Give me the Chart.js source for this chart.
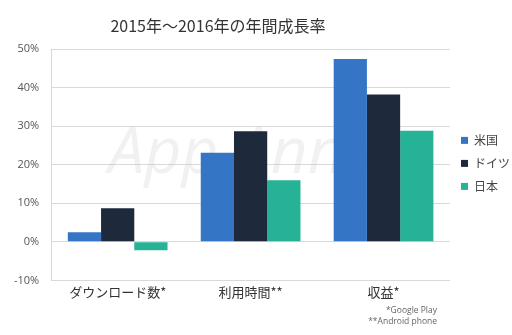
<!DOCTYPE html>
<html>
<head>
<meta charset="utf-8">
<script src="https://cdn.jsdelivr.net/npm/chart.js@4"></script>
<style>
  body { margin: 0; background: #fff; }
  #wrap { position: relative; width: 512px; height: 335px; }
  #title { position: absolute; left: 0; width: 436px; top: 13px; text-align: center;
           font: 16px "Noto Sans CJK JP", sans-serif; color: #333; }
  #note { position: absolute; right: 75px; top: 304px; text-align: right;
          font: 8.5px "Open Sans", sans-serif; color: #666; line-height: 11px; }
</style>
</head>
<body>
<div id="wrap">
  <canvas id="growthChart" width="512" height="335"></canvas>
  <div id="title">2015年～2016年の年間成長率</div>
  <div id="note">*Google Play<br>**Android phone</div>
</div>
<script>
// 項目と国別の成長率 (%)
const categories = ['ダウンロード数*', '利用時間**', '収益*'];
const countries = ['米国', 'ドイツ', '日本'];
const usValues = [2.5, 23.1, 47.4];
const germanyValues = [8.7, 28.7, 38.2];
const japanValues = [-2.2, 16.0, 28.8];
const yTicks = [-10, 0, 10, 20, 30, 40, 50];
const colors = ['#3575C6', '#1E2A3C', '#26B296'];

// 背景のウォーターマーク
const watermark = {
    id: 'watermark',
    beforeDatasetsDraw(chart) {
        const { ctx, chartArea } = chart;
        ctx.save();
        ctx.font = 'italic 64px "Open Sans", sans-serif';
        ctx.fillStyle = 'rgba(200,200,200,0.25)';
        ctx.textAlign = 'center';
        ctx.textBaseline = 'middle';
        ctx.fillText('App Annie', (chartArea.left + chartArea.right) / 2, 155);
        ctx.restore();
    }
};

const ctx = document.getElementById('growthChart').getContext('2d');
new Chart(ctx, {
    type: 'bar',
    data: {
        labels: categories,
        datasets: [
            { label: countries[0], data: usValues, backgroundColor: colors[0] },
            { label: countries[1], data: germanyValues, backgroundColor: colors[1] },
            { label: countries[2], data: japanValues, backgroundColor: colors[2] }
        ]
    },
    options: {
        responsive: false,
        animation: false,
        layout: { padding: { top: 49, bottom: 31, left: 2, right: -8 } },
        datasets: { bar: { barPercentage: 1, categoryPercentage: 0.75 } },
        plugins: {
            title: { display: false },
            tooltip: { enabled: false },
            legend: {
                position: 'right',
                align: 'start',
                title: { display: true, text: ' ', padding: { top: 0, bottom: 60 }, font: { size: 12 } },
                labels: {
                    boxWidth: 7, boxHeight: 7, padding: 11,
                    color: '#444',
                    font: { family: '"Noto Sans CJK JP"', size: 12 }
                }
            }
        },
        scales: {
            x: {
                grid: { display: false, drawTicks: false },
                border: { display: false },
                ticks: { color: '#333', font: { family: '"Noto Sans CJK JP"', size: 13 }, padding: 4 }
            },
            y: {
                min: -10, max: 50,
                afterBuildTicks: axis => { axis.ticks = yTicks.map(v => ({ value: v })); },
                grid: { color: '#d9d9d9', drawTicks: false },
                border: { display: true, color: '#d9d9d9' },
                ticks: {
                    color: '#555', padding: 12,
                    font: { family: '"Open Sans"', size: 11 },
                    callback: v => v + '%'
                }
            }
        }
    },
    plugins: [watermark]
});
</script>
</body>
</html>
